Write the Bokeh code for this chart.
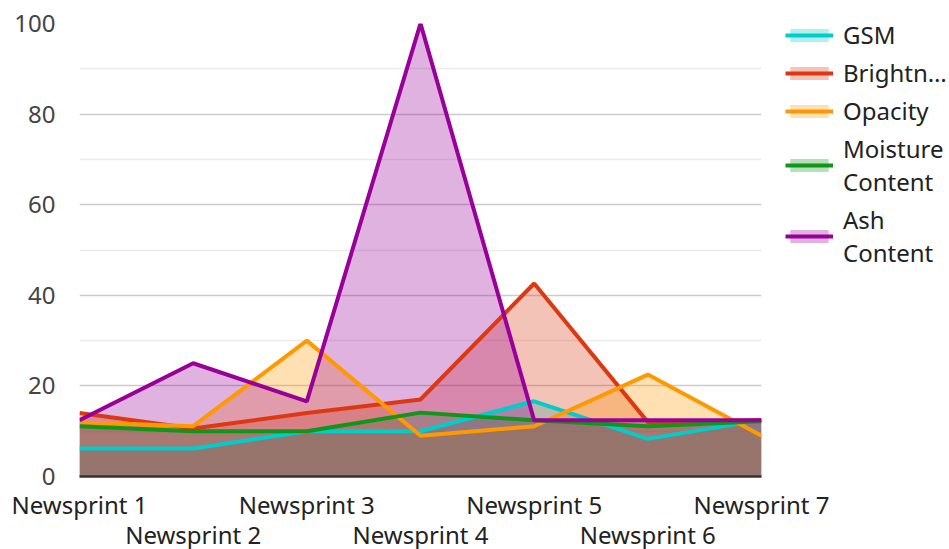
from bokeh.plotting import figure
from bokeh.models import (Range1d, LinearAxis, FixedTicker, Legend, LegendItem)
from bokeh.embed import file_html
from bokeh.resources import INLINE

categories = ["Newsprint 1", "Newsprint 2", "Newsprint 3", "Newsprint 4",
              "Newsprint 5", "Newsprint 6", "Newsprint 7"]
series_names = ["GSM", "Brightn\u2026", "Opacity", "Moisture\nContent", "Ash\nContent"]
gsm = [6.2, 6.2, 10.0, 10.0, 16.6, 8.3, 12.5]
brightness = [14.0, 10.6, 14.0, 17.0, 42.6, 12.0, 12.4]
opacity = [12.0, 11.1, 30.0, 9.0, 11.1, 22.5, 9.0]
moisture = [11.1, 10.0, 10.0, 14.1, 12.4, 11.1, 12.2]
ash = [12.4, 25.0, 16.6, 100.0, 12.4, 12.4, 12.4]
y_ticks = [0, 20, 40, 60, 80, 100]

colors = ["#00cccc", "#dc3912", "#ff9900", "#109618", "#990099"]
values = [gsm, brightness, opacity, moisture, ash]
xs = list(range(len(categories)))

FONT = "Noto Sans"
FS = "24px"

p = figure(frame_width=682, frame_height=453, output_backend="svg",
           toolbar_location=None, x_axis_location=None,
           x_range=Range1d(0, len(categories) - 1), y_range=Range1d(0, 100))
p.min_border_left = 79
p.min_border_top = 23
p.min_border_right = 188
p.min_border_bottom = 73
p.outline_line_color = None
p.background_fill_color = "white"

yt = FixedTicker(ticks=y_ticks, minor_ticks=[10, 30, 50, 70, 90])
p.yaxis.ticker = yt
p.yaxis.axis_line_color = None
p.yaxis.major_tick_line_color = None
p.yaxis.minor_tick_line_color = None
p.yaxis.major_tick_out = 0
p.yaxis.major_tick_in = 0
p.yaxis.minor_tick_out = 0
p.yaxis.major_label_text_font = FONT
p.yaxis.major_label_text_font_size = FS
p.yaxis.major_label_text_color = "#444444"
p.yaxis.major_label_standoff = 24
p.xgrid.grid_line_color = None
p.ygrid.ticker = yt
p.ygrid.grid_line_color = "#cccccc"
p.ygrid.grid_line_width = 1.5
p.ygrid.minor_grid_line_color = "#ebebeb"
p.ygrid.minor_grid_line_width = 1.5

areas = []
for vals, c in zip(values, colors):
    areas.append(p.varea(x=xs, y1=[0] * len(xs), y2=vals, fill_color=c, fill_alpha=0.3))
lines = []
for vals, c in zip(values, colors):
    lines.append(p.line(x=xs, y=vals, line_color=c, line_width=4))

ax1 = LinearAxis(ticker=FixedTicker(ticks=[0, 2, 4, 6]),
                 major_label_overrides={i: categories[i] for i in [0, 2, 4, 6]})
ax2 = LinearAxis(ticker=FixedTicker(ticks=[1, 3, 5]),
                 major_label_overrides={i: categories[i] for i in [1, 3, 5]})
for ax in (ax1, ax2):
    ax.major_tick_line_color = None
    ax.minor_tick_line_color = None
    ax.major_tick_out = 0
    ax.major_tick_in = 0
    ax.minor_tick_out = 0
    ax.major_label_text_font = FONT
    ax.major_label_text_font_size = FS
    ax.major_label_text_color = "#222222"
ax1.axis_line_color = "#333333"
ax1.axis_line_width = 2.5
ax1.major_label_standoff = 11
ax2.axis_line_color = None
ax2.major_label_standoff = -6
p.add_layout(ax1, "below")
p.add_layout(ax2, "below")

items = [LegendItem(label=n, renderers=[a, l]) for n, a, l in zip(series_names, areas, lines)]
legend = Legend(items=items, location=(24, 207))
legend.label_text_font = FONT
legend.label_text_font_size = FS
legend.label_text_color = "#222222"
legend.border_line_color = None
legend.background_fill_color = None
legend.glyph_width = 48
legend.glyph_height = 16
legend.spacing = 5
legend.padding = 0
legend.margin = 0
legend.label_standoff = 10
p.add_layout(legend, "right")

open("out.html", "w").write(file_html(p, INLINE))
